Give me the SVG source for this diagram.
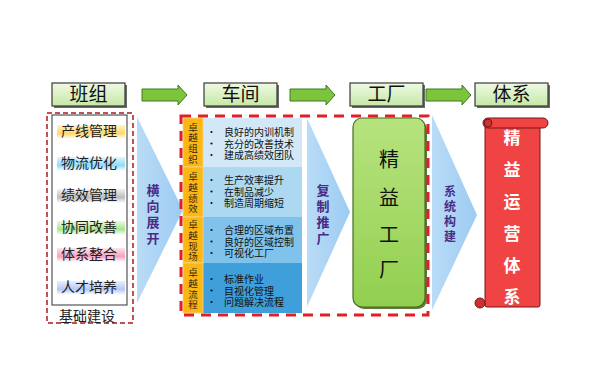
<svg xmlns="http://www.w3.org/2000/svg" width="594" height="385" viewBox="0 0 594 385">
<defs>
<style>
text{font-family:"Liberation Sans","Noto Sans CJK SC",sans-serif;}
.hdr{fill:url(#hg);stroke:#3a3a3a;stroke-width:1.2;}
.hsh{fill:#6a6a6a;}
.htx{font-size:19px;fill:#111;text-anchor:middle;dominant-baseline:central;}
.garrow{fill:#7cc43c;stroke:#3f7a1c;stroke-width:1;}
.lab{font-size:14px;fill:#222;text-anchor:middle;dominant-baseline:central;}
.chev{fill:url(#cg);}
.ctx{font-size:13px;font-weight:bold;fill:#4b2b86;text-anchor:middle;dominant-baseline:central;}
.otx{font-size:9.5px;fill:#3a2a10;text-anchor:middle;dominant-baseline:central;}
.btx{font-size:10px;fill:#111;dominant-baseline:central;}
.dot{fill:#111;}
.scr{fill:#f04444;stroke:#7a1515;stroke-width:1;}
.stx{font-size:17px;font-weight:bold;fill:#fff;text-anchor:middle;dominant-baseline:central;}
.ftx{font-size:20px;fill:#111;text-anchor:middle;dominant-baseline:central;}
</style>
<linearGradient id="hg" x1="0" y1="0" x2="0" y2="1">
<stop offset="0" stop-color="#eef9e4"/><stop offset="1" stop-color="#c6e8a6"/>
</linearGradient>
<linearGradient id="cg" x1="0" y1="0" x2="1" y2="0">
<stop offset="0" stop-color="#b9dcf7"/><stop offset="1" stop-color="#9ccbf2"/>
</linearGradient>
<linearGradient id="fg" x1="0" y1="0" x2="0" y2="1">
<stop offset="0" stop-color="#b7e37f"/><stop offset="1" stop-color="#92cf4f"/>
</linearGradient>
<linearGradient id="b1" x1="0" y1="0" x2="0" y2="1"><stop offset="0" stop-color="#fff3c8"/><stop offset="0.6" stop-color="#ffd86a"/><stop offset="1" stop-color="#ffffff"/></linearGradient>
<linearGradient id="b2" x1="0" y1="0" x2="0" y2="1"><stop offset="0" stop-color="#dff7fd"/><stop offset="0.6" stop-color="#8fdcf6"/><stop offset="1" stop-color="#ffffff"/></linearGradient>
<linearGradient id="b3" x1="0" y1="0" x2="0" y2="1"><stop offset="0" stop-color="#f2f2f2"/><stop offset="0.6" stop-color="#bcbcbc"/><stop offset="1" stop-color="#ffffff"/></linearGradient>
<linearGradient id="b4" x1="0" y1="0" x2="0" y2="1"><stop offset="0" stop-color="#eafbe0"/><stop offset="0.6" stop-color="#a8e68c"/><stop offset="1" stop-color="#ffffff"/></linearGradient>
<linearGradient id="b5" x1="0" y1="0" x2="0" y2="1"><stop offset="0" stop-color="#fde3ec"/><stop offset="0.6" stop-color="#f7a0bc"/><stop offset="1" stop-color="#ffffff"/></linearGradient>
<linearGradient id="b6" x1="0" y1="0" x2="0" y2="1"><stop offset="0" stop-color="#e8eefd"/><stop offset="0.6" stop-color="#b6c8f5"/><stop offset="1" stop-color="#ffffff"/></linearGradient>
</defs>
<rect width="594" height="385" fill="#ffffff"/>

<g id="hdr-banzu">
<rect class="hsh" x="54" y="85" width="73" height="23"/>
<rect class="hdr" x="52" y="83" width="73" height="23"/>
<text class="htx" x="88.5" y="94.5">班组</text>
</g>
<g id="hdr-chejian">
<rect class="hsh" x="206" y="85" width="73" height="23"/>
<rect class="hdr" x="204" y="83" width="73" height="23"/>
<text class="htx" x="240.5" y="94.5">车间</text>
</g>
<g id="hdr-gongchang">
<rect class="hsh" x="352" y="85" width="73" height="23"/>
<rect class="hdr" x="350" y="83" width="73" height="23"/>
<text class="htx" x="386.5" y="94.5">工厂</text>
</g>
<g id="hdr-tixi">
<rect class="hsh" x="477" y="85" width="73" height="23"/>
<rect class="hdr" x="475" y="83" width="73" height="23"/>
<text class="htx" x="511.5" y="94.5">体系</text>
</g>

<g id="connectors">
<path class="garrow" d="M142,89 H178 V85 L187,95 L178,105 V101 H142 Z"/>
<path class="garrow" d="M290,89 H326 V85 L335,95 L326,105 V101 H290 Z"/>
<path class="garrow" d="M426,89 H462 V85 L471,95 L462,105 V101 H426 Z"/>
<path class="chev" d="M137,117 L183,210 L137,303 Z"/>
<path class="chev" d="M307,118 L350,212 L307,307 Z"/>
<path class="chev" d="M432,115 L477,215 L432,310 Z"/>
<text class="ctx" x="153" y="190">横</text>
<text class="ctx" x="153" y="206">向</text>
<text class="ctx" x="153" y="222">展</text>
<text class="ctx" x="153" y="238">开</text>
<text class="ctx" x="323" y="190">复</text>
<text class="ctx" x="323" y="206">制</text>
<text class="ctx" x="323" y="222">推</text>
<text class="ctx" x="323" y="238">广</text>
<text class="ctx" x="450" y="192" style="font-size:12px">系</text>
<text class="ctx" x="450" y="207" style="font-size:12px">统</text>
<text class="ctx" x="450" y="222" style="font-size:12px">构</text>
<text class="ctx" x="450" y="237" style="font-size:12px">建</text>
</g>

<g id="node-jichu">
<rect x="47" y="113" width="86" height="210" fill="none" stroke="#b01818" stroke-width="1.5" stroke-dasharray="5 3"/>
<rect x="52" y="115" width="75" height="190" fill="#ffffff" stroke="#333" stroke-width="1"/>
<rect x="57" y="125" width="68" height="14" fill="url(#b1)"/>
<text class="lab" x="89" y="131">产线管理</text>
<rect x="57" y="157" width="68" height="14" fill="url(#b2)"/>
<text class="lab" x="89" y="163">物流优化</text>
<rect x="57" y="189" width="68" height="14" fill="url(#b3)"/>
<text class="lab" x="89" y="195">绩效管理</text>
<rect x="57" y="221" width="68" height="14" fill="url(#b4)"/>
<text class="lab" x="89" y="227">协同改善</text>
<rect x="57" y="248" width="68" height="14" fill="url(#b5)"/>
<text class="lab" x="89" y="254">体系整合</text>
<rect x="57" y="281" width="68" height="14" fill="url(#b6)"/>
<text class="lab" x="89" y="287">人才培养</text>
<text class="lab" x="87" y="316">基础建设</text>
</g>

<g id="node-chejian">
<rect x="203" y="118" width="99" height="49" fill="#d2e8f6"/>
<rect x="203" y="167" width="99" height="50" fill="#acd8f2"/>
<rect x="203" y="217" width="99" height="46" fill="#7fc3ec"/>
<rect x="203" y="263" width="99" height="50" fill="#3f9fdb"/>
<g fill="#fbb714" stroke="#f4d68a" stroke-width="0.8">
<rect x="183" y="118" width="20" height="49"/>
<rect x="183" y="167" width="20" height="50"/>
<rect x="183" y="217" width="20" height="46"/>
<rect x="183" y="263" width="20" height="50"/>
</g>
<text class="otx"><tspan x="193" y="126.5">卓</tspan><tspan x="193" y="137.3">越</tspan><tspan x="193" y="148.1">组</tspan><tspan x="193" y="158.9">织</tspan></text>
<text class="otx"><tspan x="193" y="176">卓</tspan><tspan x="193" y="186.8">越</tspan><tspan x="193" y="197.6">绩</tspan><tspan x="193" y="208.4">效</tspan></text>
<text class="otx"><tspan x="193" y="224">卓</tspan><tspan x="193" y="234.8">越</tspan><tspan x="193" y="245.6">现</tspan><tspan x="193" y="256.4">场</tspan></text>
<text class="otx"><tspan x="193" y="272">卓</tspan><tspan x="193" y="282.8">越</tspan><tspan x="193" y="293.6">流</tspan><tspan x="193" y="304.4">程</tspan></text>
<g class="dot">
<circle cx="211.5" cy="132" r="1.1"/><circle cx="211.5" cy="143.5" r="1.1"/><circle cx="211.5" cy="155" r="1.1"/>
<circle cx="211.5" cy="180" r="1.1"/><circle cx="211.5" cy="191.5" r="1.1"/><circle cx="211.5" cy="203" r="1.1"/>
<circle cx="211.5" cy="230" r="1.1"/><circle cx="211.5" cy="241.5" r="1.1"/><circle cx="211.5" cy="253" r="1.1"/>
<circle cx="211.5" cy="279" r="1.1"/><circle cx="211.5" cy="290.5" r="1.1"/><circle cx="211.5" cy="302" r="1.1"/>
</g>
<text class="btx"><tspan x="224" y="132">良好的内训机制</tspan><tspan x="224" y="143.5">充分的改善技术</tspan><tspan x="224" y="155">建成高绩效团队</tspan></text>
<text class="btx"><tspan x="224" y="180">生产效率提升</tspan><tspan x="224" y="191.5">在制品减少</tspan><tspan x="224" y="203">制造周期缩短</tspan></text>
<text class="btx"><tspan x="224" y="230">合理的区域布置</tspan><tspan x="224" y="241.5">良好的区域控制</tspan><tspan x="224" y="253">可视化工厂</tspan></text>
<text class="btx"><tspan x="224" y="279">标准作业</tspan><tspan x="224" y="290.5">目视化管理</tspan><tspan x="224" y="302">问题解决流程</tspan></text>
</g>

<g id="node-gongchang">
<rect x="355" y="120" width="72" height="189" rx="9" fill="#5e7a3a"/>
<rect x="353" y="118" width="72" height="189" rx="9" fill="url(#fg)" stroke="#4a6b26" stroke-width="1.2"/>
<text class="ftx" x="389" y="160">精</text>
<text class="ftx" x="389" y="198">益</text>
<text class="ftx" x="389" y="235">工</text>
<text class="ftx" x="389" y="270">厂</text>
</g>

<g id="frame-dashed">
<path d="M181,116 H428 V315 H181 Z" fill="none" stroke="#e21e26" stroke-width="3" stroke-dasharray="10 7"/>
</g>

<g id="node-tixi">
<rect class="scr" x="485" y="123" width="55" height="184" rx="2"/>
<rect class="scr" x="483" y="118" width="65" height="10" rx="5"/>
<circle cx="488" cy="123" r="4" fill="#c83232" stroke="#7a1515" stroke-width="1"/>
<circle cx="480" cy="303" r="5" fill="#c83232" stroke="#7a1515" stroke-width="1"/>
<text class="stx" x="512" y="138">精</text>
<text class="stx" x="512" y="170">益</text>
<text class="stx" x="512" y="202">运</text>
<text class="stx" x="512" y="234">营</text>
<text class="stx" x="512" y="266">体</text>
<text class="stx" x="512" y="297">系</text>
</g>
</svg>
